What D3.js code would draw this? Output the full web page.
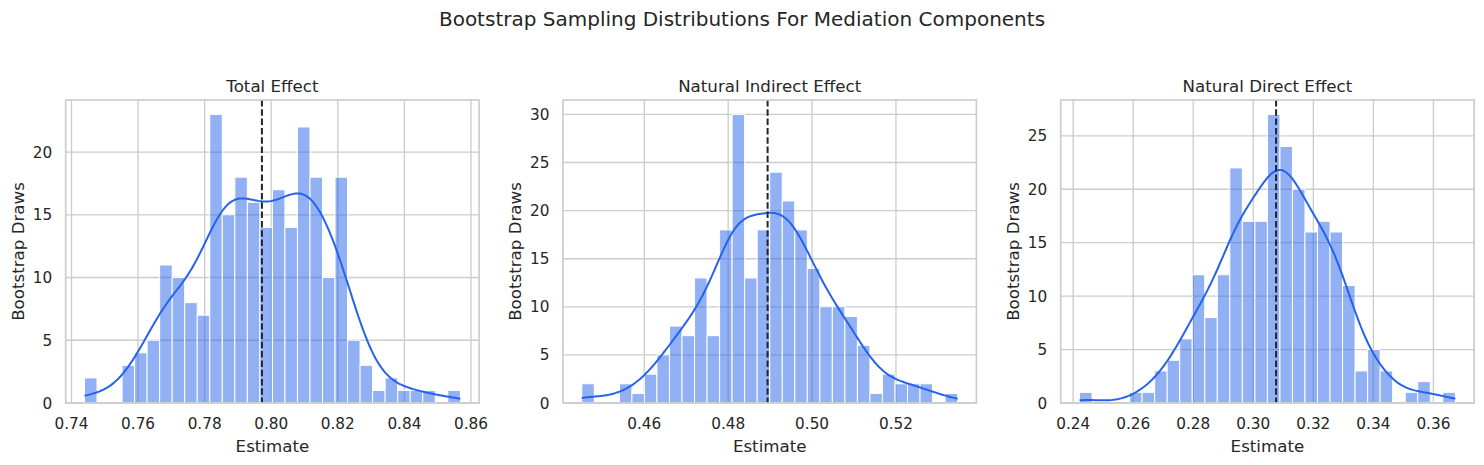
<!DOCTYPE html>
<html>
<head>
<meta charset="utf-8">
<script src="https://cdn.jsdelivr.net/npm/d3@7"></script>
<style>
  body { margin: 0; background: #fff; }
  text { font-family: "DejaVu Sans", sans-serif; fill: #262626; }
</style>
</head>
<body>
<div id="chart"></div>
<script>
// bootstrap histogram counts, 30 bins each
const panelTitles = ['Total Effect', 'Natural Indirect Effect', 'Natural Direct Effect'];
const totalCounts = [2, 0, 0, 3, 4, 5, 11, 10, 8, 7, 23, 15, 18, 16, 14, 17, 14, 22, 18, 10, 18, 5, 3, 1, 2, 1, 1, 1, 0, 1];
const indirectCounts = [2, 0, 0, 2, 1, 3, 5, 8, 7, 13, 7, 18, 30, 13, 18, 24, 21, 18, 14, 10, 10, 9, 6, 1, 3, 2, 2, 2, 0, 1];
const directCounts = [1, 0, 0, 0, 1, 1, 3, 4, 6, 12, 8, 12, 22, 17, 17, 27, 24, 20, 16, 17, 16, 11, 3, 5, 3, 0, 1, 2, 0, 1];
// smallest / largest bootstrap draw per component
const drawRanges = [[0.7439, 0.8568], [0.4451, 0.5347], [0.2421, 0.3673]];
const pointEstimates = [0.7972, 0.4894, 0.3076];
const xTickValues = [
  [0.74, 0.76, 0.78, 0.80, 0.82, 0.84, 0.86],
  [0.46, 0.48, 0.50, 0.52],
  [0.24, 0.26, 0.28, 0.30, 0.32, 0.34, 0.36]
];
const yTickValues = [
  [0, 5, 10, 15, 20],
  [0, 5, 10, 15, 20, 25, 30],
  [0, 5, 10, 15, 20, 25]
];
const allCounts = [totalCounts, indirectCounts, directCounts];

const width = 1484, height = 465;
const panelLeft = [65.7, 563, 1060.7];
const panelWidth = 413.4;
const plotTop = 100, plotBottom = 403;
const barColor = '#2563eb';
const gridColor = '#cccccc';

const svg = d3.select('#chart')
  .append('svg')
  .attr('width', width)
  .attr('height', height);

svg.append('text')
  .attr('x', width / 2)
  .attr('y', 25.7)
  .attr('text-anchor', 'middle')
  .style('font-size', '20px')
  .text('Bootstrap Sampling Distributions For Mediation Components');

// gaussian kde on the binned draws, scaled to counts (scott bandwidth)
function kdeLine(counts, lo, hi) {
  const w = (hi - lo) / counts.length;
  const centers = counts.map((c, i) => lo + (i + 0.5) * w);
  const n = d3.sum(counts);
  const mean = d3.sum(counts, (c, i) => c * centers[i]) / n;
  const variance = d3.sum(counts, (c, i) => c * (centers[i] - mean) ** 2) / (n - 1);
  const bw = Math.sqrt(variance) * Math.pow(n, -0.2);
  return d3.range(200).map(j => {
    const x = lo + (hi - lo) * j / 199;
    const y = d3.sum(counts, (c, i) => c * Math.exp(-0.5 * ((x - centers[i]) / bw) ** 2));
    return [x, y * w / (bw * Math.sqrt(2 * Math.PI))];
  });
}

allCounts.forEach((counts, p) => {
  const [lo, hi] = drawRanges[p];
  const pad = (hi - lo) * 0.05;
  const x = d3.scaleLinear()
    .domain([lo - pad, hi + pad])
    .range([panelLeft[p], panelLeft[p] + panelWidth]);
  const y = d3.scaleLinear()
    .domain([0, d3.max(counts) * 1.05])
    .range([plotBottom, plotTop]);
  const binW = (hi - lo) / counts.length;

  const g = svg.append('g');

  // grid
  g.selectAll('.vgrid')
    .data(xTickValues[p])
    .enter()
    .append('line')
    .attr('x1', d => x(d)).attr('x2', d => x(d))
    .attr('y1', plotTop).attr('y2', plotBottom)
    .attr('stroke', gridColor)
    .attr('stroke-width', 1.33);
  g.selectAll('.hgrid')
    .data(yTickValues[p])
    .enter()
    .append('line')
    .attr('x1', panelLeft[p]).attr('x2', panelLeft[p] + panelWidth)
    .attr('y1', d => y(d)).attr('y2', d => y(d))
    .attr('stroke', gridColor)
    .attr('stroke-width', 1.33);

  // bars
  g.selectAll('rect.bar')
    .data(counts.map((c, i) => ({ c, x0: lo + i * binW, x1: lo + (i + 1) * binW })).filter(d => d.c > 0))
    .enter()
    .append('rect')
    .attr('class', 'bar')
    .attr('x', d => x(d.x0))
    .attr('width', d => x(d.x1) - x(d.x0))
    .attr('y', d => y(d.c))
    .attr('height', d => y(0) - y(d.c))
    .attr('fill', barColor)
    .attr('fill-opacity', 0.5)
    .attr('stroke', '#fff')
    .attr('stroke-width', 1);

  // kde
  g.append('path')
    .datum(kdeLine(counts, lo, hi))
    .attr('d', d3.line().x(d => x(d[0])).y(d => y(d[1])))
    .attr('fill', 'none')
    .attr('stroke', barColor)
    .attr('stroke-width', 2);

  // point estimate
  g.append('line')
    .attr('x1', x(pointEstimates[p])).attr('x2', x(pointEstimates[p]))
    .attr('y1', plotTop).attr('y2', plotBottom)
    .attr('stroke', '#1f2430')
    .attr('stroke-width', 2)
    .attr('stroke-dasharray', '6.5,2.8');

  // frame
  g.append('rect')
    .attr('x', panelLeft[p]).attr('y', plotTop)
    .attr('width', panelWidth).attr('height', plotBottom - plotTop)
    .attr('fill', 'none')
    .attr('stroke', gridColor)
    .attr('stroke-width', 1.67);

  // tick labels
  g.selectAll('.xlab')
    .data(xTickValues[p])
    .enter()
    .append('text')
    .attr('x', d => x(d))
    .attr('y', 428.5)
    .attr('text-anchor', 'middle')
    .style('font-size', '15.28px')
    .text(d => d3.format('.2f')(d));
  g.selectAll('.ylab')
    .data(yTickValues[p])
    .enter()
    .append('text')
    .attr('x', panelLeft[p] - 13.5)
    .attr('y', d => y(d) + 5.5)
    .attr('text-anchor', 'end')
    .style('font-size', '15.28px')
    .text(d => d);

  g.append('text')
    .attr('x', panelLeft[p] + panelWidth / 2)
    .attr('y', 92.3)
    .attr('text-anchor', 'middle')
    .style('font-size', '16.67px')
    .text(panelTitles[p]);
  g.append('text')
    .attr('x', panelLeft[p] + panelWidth / 2)
    .attr('y', 452)
    .attr('text-anchor', 'middle')
    .style('font-size', '16.67px')
    .text('Estimate');
  g.append('text')
    .attr('transform', `translate(${panelLeft[p] - 42},${(plotTop + plotBottom) / 2}) rotate(-90)`)
    .attr('text-anchor', 'middle')
    .style('font-size', '16.67px')
    .text('Bootstrap Draws');
});
</script>
</body>
</html>
